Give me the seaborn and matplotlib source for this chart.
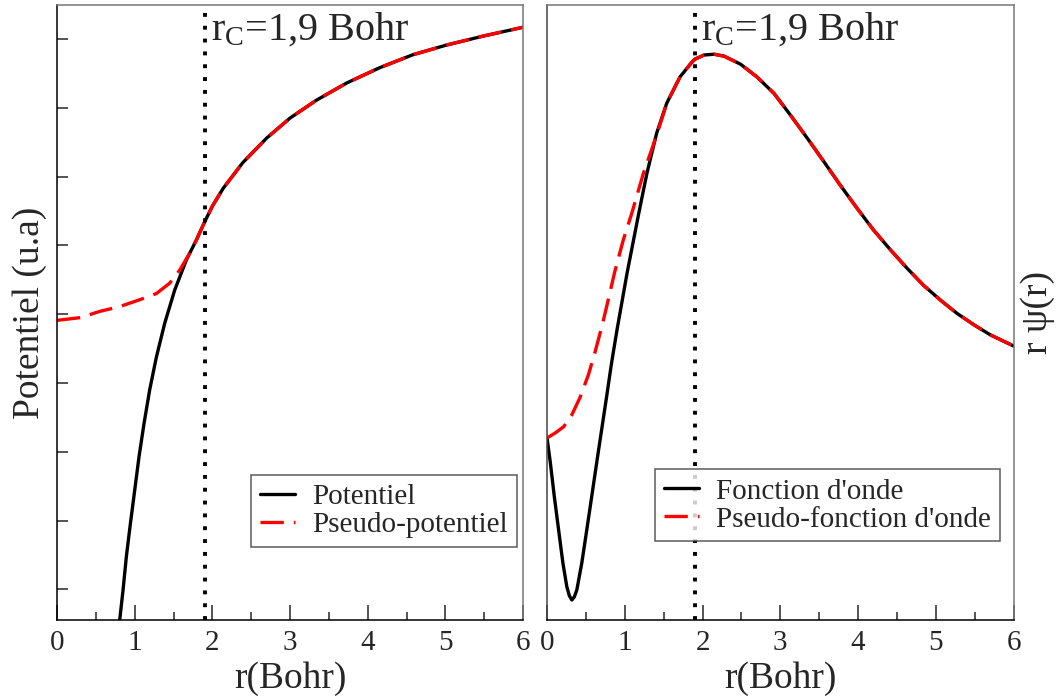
import numpy as np
import pandas as pd
import seaborn as sns
import matplotlib.pyplot as plt

# ---- left panel : potentials (one unit = one y tick, labels hidden) ----
r_pot = [0.76, 0.807, 0.85, 0.893, 0.945, 1.0, 1.056, 1.12, 1.193, 1.28, 1.387, 1.515, 1.666,
         1.795, 1.9, 2.0, 2.14, 2.39, 2.7, 3.0, 3.34, 3.73, 4.15, 4.58, 5.01, 5.48, 6.0]
v_pot = [-9.0, -8.445, -8.01, -7.52, -7.04, -6.56, -6.07, -5.59, -5.10, -4.62, -4.13, -3.65, -3.21,
         -2.92, -2.66, -2.43, -2.17, -1.80, -1.44, -1.15, -0.89, -0.64, -0.42, -0.23, -0.09, 0.04, 0.17]

r_pseudo_pot = [0.0, 0.3, 0.55, 0.807, 1.065, 1.28, 1.45, 1.58, 1.71,
                1.795, 1.9, 2.0, 2.14, 2.39, 2.7, 3.0, 3.34, 3.73, 4.15, 4.58, 5.01, 5.48, 6.0]
v_pseudo_pot = [-4.09, -4.05, -3.96, -3.89, -3.79, -3.70, -3.55, -3.36, -3.11,
                -2.92, -2.66, -2.43, -2.17, -1.80, -1.44, -1.15, -0.89, -0.64, -0.42, -0.23, -0.09, 0.04, 0.17]

# ---- right panel : r*psi(r), scaled so the maximum is about 1 ----
r_wf = [0.0, 0.043, 0.094, 0.149, 0.204, 0.255, 0.287, 0.319, 0.351, 0.383, 0.447, 0.511, 0.574, 0.638, 0.702,
        0.766, 0.83, 0.90, 1.03, 1.18, 1.285, 1.41, 1.54, 1.71, 1.849, 1.90, 2.02, 2.15, 2.277,
        2.49, 2.70, 2.92, 3.13, 3.35, 3.56, 3.77, 3.99, 4.20, 4.42, 4.63, 4.84, 5.06, 5.27, 5.49, 5.70, 6.0]
v_wf = [0.0, -0.065, -0.153, -0.239, -0.325, -0.387, -0.410, -0.421, -0.413, -0.395, -0.325, -0.239, -0.153, -0.065, 0.021,
        0.107, 0.195, 0.281, 0.429, 0.584, 0.688, 0.792, 0.870, 0.938, 0.973, 0.984, 0.995, 0.997, 0.992,
        0.971, 0.938, 0.895, 0.839, 0.778, 0.718, 0.657, 0.596, 0.540, 0.488, 0.441, 0.397, 0.358, 0.324, 0.294, 0.268, 0.239]

r_pseudo_wf = [0.0, 0.106, 0.213, 0.319, 0.426, 0.532, 0.617, 0.70, 0.75, 0.87, 0.98, 1.09, 1.24, 1.41,
               1.54, 1.71, 1.849, 1.90, 2.02, 2.15, 2.277, 2.49, 2.70, 2.92, 3.13, 3.35, 3.56, 3.77,
               3.99, 4.20, 4.42, 4.63, 4.84, 5.06, 5.27, 5.49, 5.70, 6.0]
v_pseudo_wf = [0.0, 0.013, 0.029, 0.060, 0.106, 0.164, 0.223, 0.286, 0.327, 0.431, 0.514, 0.584, 0.688, 0.787,
               0.870, 0.938, 0.973, 0.984, 0.995, 0.997, 0.992, 0.971, 0.938, 0.895, 0.839, 0.778, 0.718, 0.657,
               0.596, 0.540, 0.488, 0.441, 0.397, 0.358, 0.324, 0.294, 0.268, 0.239]

r_cut = 1.9
x_ticks = [0, 1, 2, 3, 4, 5, 6]
pot_yticks = [-8, -7, -6, -5, -4, -3, -2, -1, 0]

sns.set_style('ticks')
plt.rcParams['font.family'] = ['Liberation Serif', 'DejaVu Serif']
plt.rcParams['mathtext.fontset'] = 'custom'
plt.rcParams['mathtext.rm'] = 'Liberation Serif'
plt.rcParams['mathtext.it'] = 'Liberation Serif:italic'

fig = plt.figure(figsize=(10.62, 7), dpi=100)
ax1 = fig.add_axes([0.0537, 0.1143, 0.4388, 0.8786])
ax2 = fig.add_axes([0.5151, 0.1143, 0.4393, 0.8786])

dash = (0, (7, 3))


def draw(ax, r_a, v_a, r_b, v_b, lab_a, lab_b):
    df_a = pd.DataFrame({'r': r_a, 'v': v_a})
    df_b = pd.DataFrame({'r': r_b, 'v': v_b})
    sns.lineplot(data=df_a, x='r', y='v', ax=ax, color='black', lw=2.4,
                 estimator=None, label=lab_a)
    sns.lineplot(data=df_b, x='r', y='v', ax=ax, color='#ff0000', lw=2.4,
                 linestyle=dash, estimator=None, label=lab_b)
    ax.axvline(r_cut, color='black', lw=2.8, linestyle=(0, (1, 2.3)))
    ax.text(1.98, 0.943, r'r$_{\rm C}$=1,9 Bohr', fontsize=29,
            transform=ax.get_xaxis_transform(), va='baseline', ha='left')
    ax.set_xlim(0, 6)
    ax.set_xticks(x_ticks)
    ax.set_xticks(np.arange(0.5, 6, 1.0), minor=True)
    ax.tick_params(axis='x', which='major', direction='in', length=11, width=1.1,
                   labelsize=21, pad=7, top=False)
    ax.tick_params(axis='x', which='minor', direction='in', length=6, width=1.1, top=False)
    ax.set_xlabel('r(Bohr)', fontsize=27, labelpad=4)
    for s in ['top', 'right']:
        ax.spines[s].set_color('#777777')
    for s in ax.spines.values():
        s.set_linewidth(1.1)
    ax.spines['bottom'].set_color('black')
    ax.legend(loc='lower right', borderaxespad=0, fontsize=21, frameon=True,
              fancybox=False, edgecolor='#333333', handlelength=1.2,
              handletextpad=0.6, labelspacing=0.05, borderpad=0.3)
    ax.get_legend().get_frame().set_linewidth(1.1)


draw(ax1, r_pot, v_pot, r_pseudo_pot, v_pseudo_pot, 'Potentiel', 'Pseudo-potentiel')
ax1.set_ylim(-8.445, 0.494)
ax1.set_yticks(pot_yticks)
ax1.tick_params(axis='y', direction='in', length=8, width=1.1, labelleft=False, right=False)
ax1.set_ylabel('Potentiel (u.a)', fontsize=27, labelpad=7)
ax1.spines['left'].set_color('black')
ax1.get_legend().set_bbox_to_anchor((0.987, 0.119), transform=ax1.transAxes)

draw(ax2, r_wf, v_wf, r_pseudo_wf, v_pseudo_wf, "Fonction d'onde", "Pseudo-fonction d'onde")
ax2.set_ylim(-0.473, 1.125)
ax2.set_yticks([])
ax2.yaxis.set_label_position('right')
ax2.set_ylabel('r \u03c8(r)', fontsize=27, labelpad=5)
ax2.spines['left'].set_color('#444444')
ax2.get_legend().set_bbox_to_anchor((0.971, 0.128), transform=ax2.transAxes)

fig.savefig('out.png', dpi=100)
